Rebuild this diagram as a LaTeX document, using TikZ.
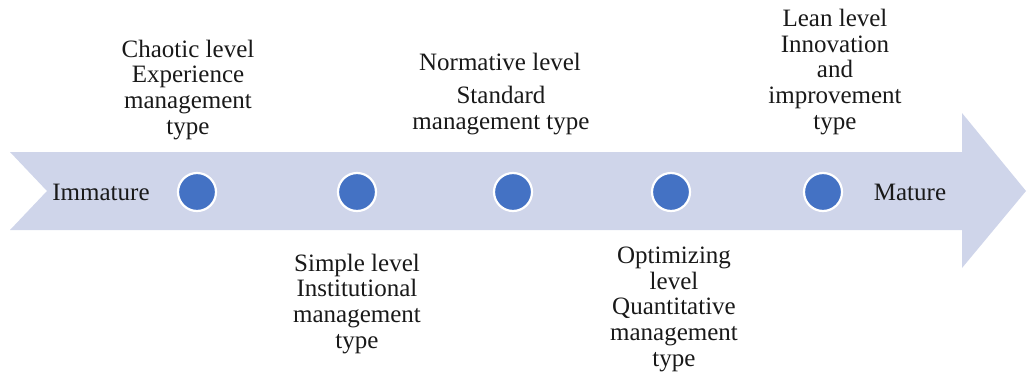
\documentclass[tikz,border=0pt]{standalone}
\usepackage{fontspec}
\setmainfont{Liberation Serif}
\definecolor{bandfill}{HTML}{CFD5EA}
\definecolor{dotblue}{HTML}{4472C4}
\begin{document}
\begin{tikzpicture}[x=1pt,y=-1pt,
  stagedot/.style={circle,fill=dotblue,draw=white,line width=2.2pt,minimum size=38pt,inner sep=0pt},
  label/.style={align=center,inner sep=0pt,anchor=base,text=black!90,
    font=\fontsize{25}{25.6}\selectfont}]
  \useasboundingbox (0,0) rectangle (1027,378);
  % maturity arrow with notched tail
  \fill[bandfill] (10,152) -- (962,152) -- (962,113) -- (1026,191)
    -- (962,268) -- (962,230) -- (10,230) -- (47,191) -- cycle;
  % stage markers
  \node[stagedot] (d1) at (197,192) {};
  \node[stagedot] (d2) at (357,192) {};
  \node[stagedot] (d3) at (513,192) {};
  \node[stagedot] (d4) at (671,192) {};
  \node[stagedot] (d5) at (823,192) {};
  % end labels (anchored at the baseline of their last line)
  \node[label] (imm) at (101,200) {Immature};
  \node[label] (mat) at (910,200) {Mature};
  % stage labels above the arrow
  \node[label] (l1) at (188,134) {Chaotic level\\Experience\\management\\type};
  \node[label] (l3a) at (500,70) {Normative level};
  \node[label] (l3b) at (501,129) {Standard\\management type};
  \node[label] (l5) at (835,129) {Lean level\\Innovation\\and\\improvement\\type};
  % stage labels below the arrow
  \node[label] (l2) at (357,348) {Simple level\\Institutional\\management\\type};
  \node[label] (l4) at (674,366) {Optimizing\\level\\Quantitative\\management\\type};
\end{tikzpicture}
\end{document}
